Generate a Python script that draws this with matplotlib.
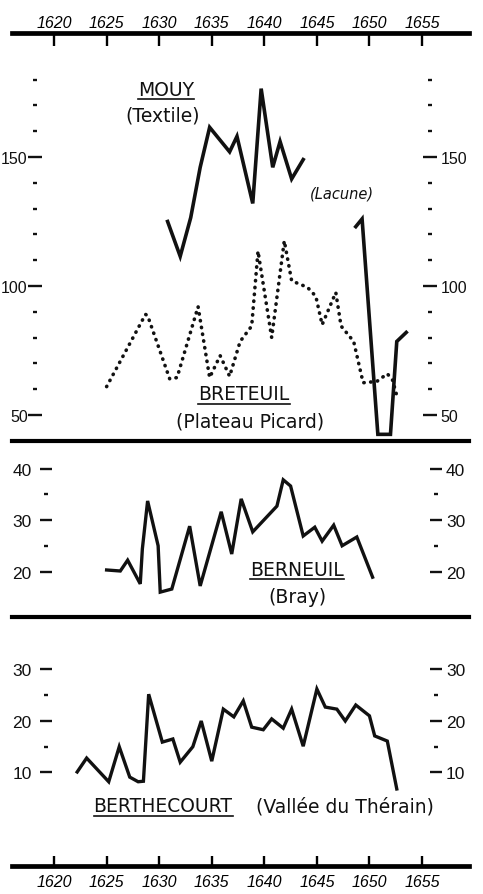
import matplotlib
matplotlib.use("Agg")
import matplotlib.pyplot as plt
from matplotlib.lines import Line2D
from matplotlib.ticker import FixedLocator, FixedFormatter

# ---------------------------------------------------------------------------
# values --------------------------------------------------------------------
# ---------------------------------------------------------------------------
years_axis = [1620, 1625, 1630, 1635, 1640, 1645, 1650, 1655]

# MOUY (textile), before and after the gap ("Lacune")
mouy_years = [1630.8, 1632.0, 1633.0, 1633.9, 1634.8, 1636.7, 1637.4,
              1638.9, 1639.7, 1640.8, 1641.5, 1642.6, 1643.7]
mouy_vals = [125, 111.5, 126.5, 146, 161.5, 152, 158,
             132, 176.5, 146, 156, 141.5, 149]
mouy2_years = [1648.7, 1649.3, 1650.8, 1652.0, 1652.6, 1653.5]
mouy2_vals = [123, 126, 42.5, 42.5, 78.5, 82]

# BRETEUIL (Plateau Picard), dotted
breteuil_years = [1625.0, 1628.7, 1628.9, 1631.0, 1631.7, 1633.7, 1634.8,
                  1635.8, 1636.7, 1637.7, 1638.8, 1639.4, 1640.7, 1641.9,
                  1642.6, 1644.1, 1644.9, 1645.5, 1646.8, 1647.3, 1648.5,
                  1649.4, 1650.7, 1651.7, 1652.2, 1652.7]
breteuil_vals = [61, 89, 88.5, 64, 64.5, 92, 64.5,
                 73, 65, 78.5, 84.5, 113.5, 80, 117.5,
                 102, 99.5, 96, 85, 97.5, 84.5, 78.5,
                 62.5, 63, 66, 63.5, 56]

# BERNEUIL (Bray)
berneuil_years = [1625.0, 1626.3, 1627.0, 1628.2, 1628.4, 1628.9, 1629.9,
                  1630.1, 1631.2, 1632.9, 1633.9, 1635.9, 1636.9, 1637.8,
                  1638.9, 1641.2, 1641.8, 1642.5, 1643.7, 1644.8, 1645.5,
                  1646.6, 1647.4, 1648.8, 1650.3]
berneuil_vals = [20.3, 20.1, 22.2, 17.6, 24.4, 33.7, 25,
                 16, 16.6, 28.8, 17.2, 31.6, 23.4, 34.1,
                 27.7, 32.7, 37.8, 36.6, 26.9, 28.6, 25.9,
                 29, 25, 26.7, 18.9]

# BERTHECOURT (Vallée du Thérain)
berthecourt_years = [1622.2, 1623.1, 1625.2, 1626.2, 1627.2, 1628.0, 1628.5,
                     1629.0, 1630.3, 1631.3, 1632.0, 1633.2, 1634.0, 1635.0,
                     1636.1, 1637.1, 1638.0, 1638.8, 1639.9, 1640.7, 1641.8,
                     1642.6, 1643.7, 1645.0, 1645.8, 1646.9, 1647.7, 1648.7,
                     1650.0, 1650.5, 1651.7, 1652.6]
berthecourt_vals = [10.1, 12.8, 8.2, 15, 9.1, 8.2, 8.3,
                    25.2, 15.9, 16.5, 12, 15, 20, 12.2,
                    22.3, 20.8, 23.9, 18.8, 18.3, 20.4, 18.6,
                    22.3, 15.1, 26.2, 22.7, 22.3, 20, 23.1,
                    21, 17.1, 16.1, 6.8]

top_major = [50, 100, 150]
top_minor = [60, 70, 80, 90, 110, 120, 130, 140, 160, 170, 180]
mid_major = [20, 30, 40]
mid_minor = [25, 35]
bot_major = [10, 20, 30]
bot_minor = [15, 25]

# ---------------------------------------------------------------------------
# layout ---------------------------------------------------------------------
# ---------------------------------------------------------------------------
W, H = 483, 895
XLIM = (1616.0, 1659.47)
TICK_FONT = ["Liberation Sans", "DejaVu Sans"]
TITLE_FONT = ["DejaVu Sans"]
INK = "#111111"

plt.rcParams["font.family"] = TICK_FONT

fig = plt.figure(figsize=(W / 100, H / 100), dpi=100)


def px_rect(x0, y0, x1, y1):
    return [x0 / W, 1 - y1 / H, (x1 - x0) / W, (y1 - y0) / H]


def px_pt(x, y):
    return x / W, 1 - y / H


def make_panel(rect, ylim, majors, minors, lx, rx, lpad, rpad, major_len, size):
    ax = fig.add_axes(rect)
    ax.patch.set_visible(False)
    ax.set_xlim(XLIM)
    ax.set_ylim(ylim)
    for s in ax.spines.values():
        s.set_visible(False)
    ax.spines["left"].set_position(("data", lx))
    ax.tick_params(axis="x", which="both", bottom=False, top=False,
                   labelbottom=False, labeltop=False)

    axr = ax.twinx()
    axr.patch.set_visible(False)
    axr.set_ylim(ylim)
    for s in axr.spines.values():
        s.set_visible(False)
    axr.spines["right"].set_position(("data", rx))

    for a, pad in ((ax, lpad), (axr, rpad)):
        a.yaxis.set_major_locator(FixedLocator(majors))
        a.yaxis.set_minor_locator(FixedLocator(minors))
        a.yaxis.set_major_formatter(FixedFormatter([str(v) for v in majors]))
        a.tick_params(axis="y", which="both", direction="inout", width=1.7,
                      color=INK, labelcolor=INK)
        a.tick_params(axis="y", which="major", length=major_len, pad=pad,
                      labelsize=size)
        a.tick_params(axis="y", which="minor", length=3.5)
    return ax


# top panel: MOUY + BRETEUIL
ax_top = make_panel(px_rect(12, 34, 469, 442), (39.92, 198.06),
                    top_major, top_minor, 1618.19, 1655.76, 0.5, 3, 9.5, 11.5)
ax_top.spines["top"].set_visible(True)
ax_top.spines["top"].set_linewidth(3.4)
ax_top.spines["bottom"].set_visible(True)
ax_top.spines["bottom"].set_linewidth(3.0)
ax_top.xaxis.set_ticks_position("top")
ax_top.set_xticks(years_axis)
ax_top.set_xticklabels([str(y) for y in years_axis])
ax_top.tick_params(axis="x", which="major", top=True, labeltop=True,
                   direction="in", length=9, width=1.7, pad=2, labelsize=11.5)
for lab in ax_top.get_xticklabels():
    lab.set_fontstyle("italic")

ax_top.plot(mouy_years, mouy_vals, color=INK, lw=2.6, solid_joinstyle="miter")
ax_top.plot(mouy2_years, mouy2_vals, color=INK, lw=2.6, solid_joinstyle="miter")
ax_top.plot(breteuil_years, breteuil_vals, color=INK, lw=2.6,
            linestyle=(0, (0.1, 1.8)), dash_capstyle="round")

# middle panel: BERNEUIL
ax_mid = make_panel(px_rect(12, 442, 469, 618), (11.17, 45.34),
                    mid_major, mid_minor, 1619.24, 1656.33, 6, 3, 8.5, 12.5)
ax_mid.plot(berneuil_years, berneuil_vals, color=INK, lw=2.4,
            solid_joinstyle="miter")

# bottom panel: BERTHECOURT
ax_bot = make_panel(px_rect(12, 618, 469, 867), (-8.16, 40.19),
                    bot_major, bot_minor, 1619.24, 1656.33, 6, 3, 8.5, 12.5)
ax_bot.spines["top"].set_visible(True)
ax_bot.spines["top"].set_linewidth(3.0)
ax_bot.spines["bottom"].set_visible(True)
ax_bot.spines["bottom"].set_linewidth(3.4)
ax_bot.set_xticks(years_axis)
ax_bot.set_xticklabels([str(y) for y in years_axis])
ax_bot.tick_params(axis="x", which="major", bottom=True, labelbottom=True,
                   direction="in", length=7, width=1.7, pad=6, labelsize=11.5)
for lab in ax_bot.get_xticklabels():
    lab.set_fontstyle("italic")
ax_bot.plot(berthecourt_years, berthecourt_vals, color=INK, lw=2.4,
            solid_joinstyle="miter")

# ---------------------------------------------------------------------------
# place names ----------------------------------------------------------------
# ---------------------------------------------------------------------------
underlined = []


def label(x, y, s, size=13.5, style="normal", underline=False):
    t = fig.text(*px_pt(x, y), s, ha="center", va="center", fontsize=size,
                 family=TITLE_FONT, fontstyle=style, color=INK)
    if underline:
        underlined.append(t)
    return t


label(166, 90, "MOUY", underline=True)
label(163, 116, "(Textile)")
label(342, 194, "(Lacune)", size=10.5, style="italic")
label(244, 395, "BRETEUIL", underline=True)
label(250, 422, "(Plateau Picard)")
label(297, 570, "BERNEUIL", underline=True)
label(297, 598, "(Bray)")
label(163, 807, "BERTHECOURT", underline=True)
label(345, 807, "(Vallée du Thérain)")

fig.canvas.draw()
renderer = fig.canvas.get_renderer()
for t in underlined:
    bb = t.get_window_extent(renderer)
    yl = (bb.y0 - 0.5) / H
    fig.add_artist(Line2D([bb.x0 / W, bb.x1 / W], [yl, yl], color=INK,
                          lw=1.2, transform=fig.transFigure))

fig.savefig("out.png", dpi=100, facecolor="white")
